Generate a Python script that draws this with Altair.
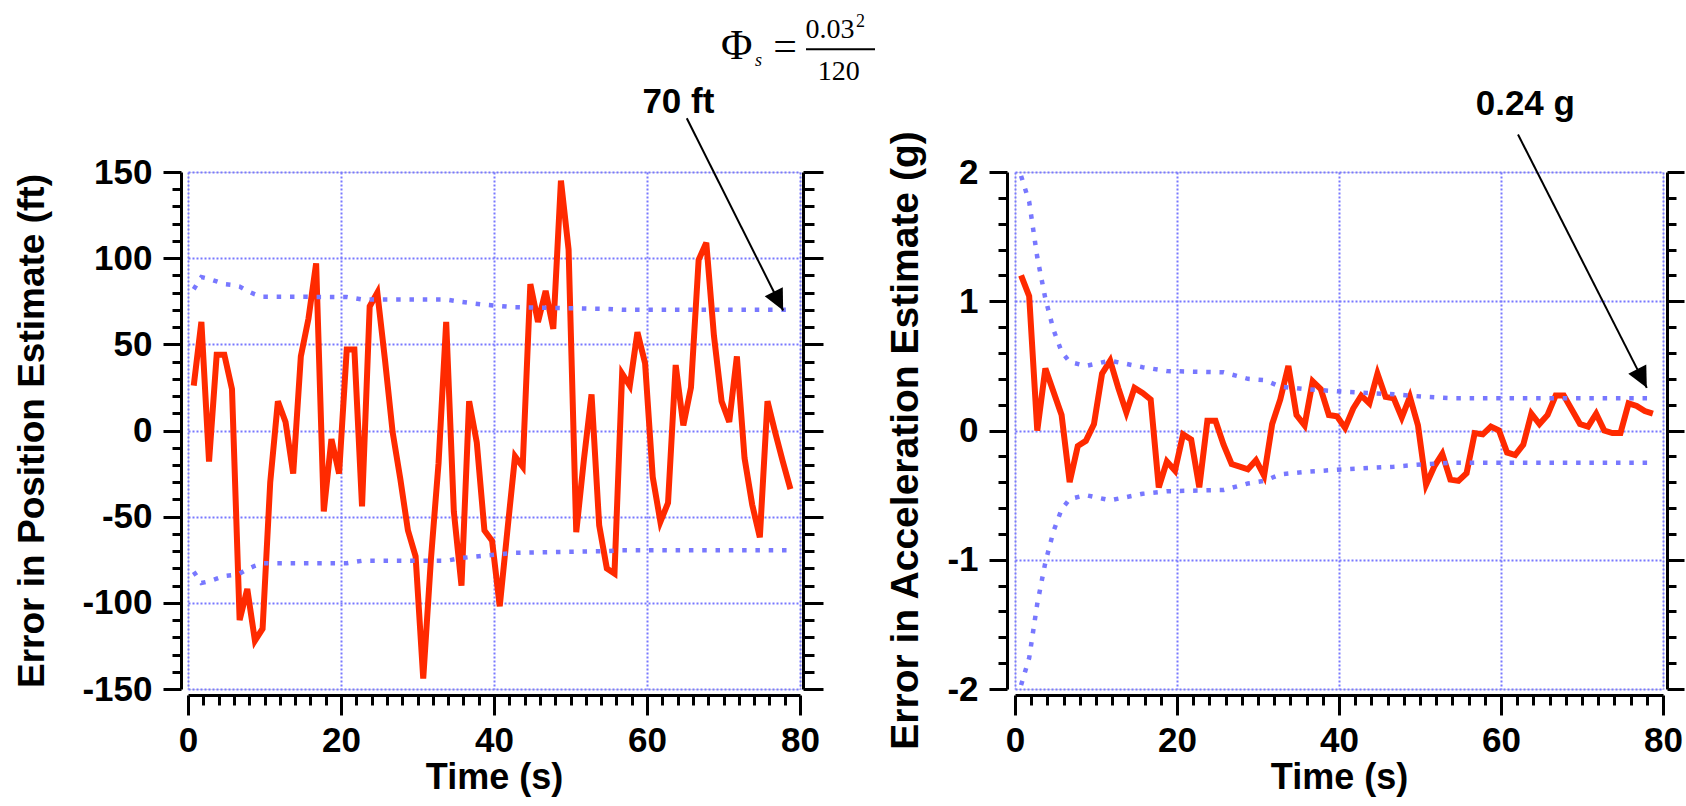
import math
import altair as alt
import pandas as pd

# ---------------- data ----------------
times = [k - 0.25 for k in range(1, 80)]

pos_err = [26, 63, -18, 44, 44, 24, -110, -92, -122, -115,
           -30, 17, 5, -25, 43, 65, 97, -47, -5, -25,
           47, 47, -44, 72, 80, 41, -1, -28, -58, -73,
           -144, -75, -19, 63, -47, -90, 17, -7, -58, -64,
           -102, -58, -15, -21, 85, 63, 81, 59, 145, 105,
           -59, -17, 21, -55, -80, -83, 33, 26, 57, 39,
           -27, -53, -42, 38, 3, 25, 99, 109, 55, 17,
           5, 43, -16, -43, -62, 17, -1, -18, -34]

acc_err = [1.20, 1.04, 0.00, 0.48, 0.30, 0.12, -0.40, -0.12, -0.08, 0.05,
           0.44, 0.54, 0.33, 0.14, 0.33, 0.29, 0.24, -0.44, -0.24, -0.31,
           -0.03, -0.07, -0.44, 0.075, 0.075, -0.11, -0.26, -0.28, -0.30, -0.23,
           -0.35, 0.05, 0.24, 0.50, 0.12, 0.04, 0.38, 0.32, 0.12, 0.11,
           0.02, 0.17, 0.27, 0.21, 0.44, 0.26, 0.25, 0.10, 0.26, 0.04,
           -0.42, -0.28, -0.18, -0.38, -0.39, -0.33, -0.02, -0.03, 0.03, 0.00,
           -0.17, -0.19, -0.11, 0.13, 0.05, 0.12, 0.27, 0.27, 0.16, 0.05,
           0.03, 0.13, 0.00, -0.02, -0.02, 0.21, 0.19, 0.15, 0.13]

pos_sig_t = [0.75, 1.75, 2.75, 3.75, 4.75, 5.75, 6.75, 7.75, 8.75, 9.75,
             20.75, 22.75, 33.75, 35.75, 38.75, 42.75, 54.75, 56.75, 78.75]
pos_sig_hi = [82, 89, 88, 86.5, 85, 84.5, 83.5, 81, 79, 77.6,
              77.5, 76, 76, 74.6, 73, 71.5, 70.5, 70, 70]
pos_sig_lo = [-82, -88.5, -87.5, -86, -84.5, -84, -83, -80.5, -78.5, -77,
              -77, -75.6, -75.6, -74, -72.6, -71, -70, -69.5, -69.5]

acc_sig_t = [0.75, 1.75, 2.75, 3.75, 4.75, 5.75, 6.75, 8.75, 11.75, 15.75,
             18.75, 25.75, 28.75, 30.75, 32.75, 35.75, 40.75, 46.75, 50.75, 53.75, 78.75]
acc_sig_hi = [1.97, 1.77, 1.34, 1.02, 0.78, 0.61, 0.53, 0.50, 0.54, 0.49,
              0.46, 0.45, 0.40, 0.39, 0.34, 0.32, 0.30, 0.28, 0.26, 0.25, 0.25]
acc_sig_lo = [-1.97, -1.76, -1.34, -1.02, -0.78, -0.61, -0.53, -0.50, -0.54, -0.49,
              -0.47, -0.46, -0.41, -0.39, -0.34, -0.32, -0.30, -0.28, -0.26, -0.25, -0.25]

x_ticks = list(range(0, 81, 2))
pos_ticks = list(range(-150, 151, 10))
acc_ticks = [round(-2 + 0.2 * i, 1) for i in range(21)]

pos_note = {"label": ["70 ft"], "t": [64.1], "v": [184.2]}
pos_arrow = {"t": [65.2], "v": [181.2], "t2": [77.8], "v2": [69.6]}
acc_note = {"label": ["0.24 g"], "t": [63.0], "v": [2.44]}
acc_arrow = {"t": [62.1], "v": [2.29], "t2": [78.0], "v2": [0.33]}

# ---------------- styles ----------------
FONT = "Liberation Sans"
SERIF = "Liberation Serif"
RED = "#ff2a00"
BLUE = "#7878ff"
W1, W2, H = 612, 648, 517
LEFT0, TOP0 = 188, 172
HEAD = "M0,0L-0.48,1L0.48,1Z"


def cond(test, a, b):
    return {"condition": {"test": test, "value": a}, "value": b}


AX = dict(labelFont=FONT, labelFontSize=35, labelFontWeight="bold", labelColor="black",
          titleFont=FONT, titleFontWeight="bold", titleColor="black",
          domainColor="black", domainWidth=3, tickColor="black", tickWidth=3,
          gridColor=BLUE, gridDash=[2, 2], gridWidth=2,
          labelOverlap=False, labelFlush=False, labelBound=False)

x_major = "datum.value % 20 === 0"
xscale = alt.Scale(domain=[0, 80], nice=False, zero=False)


def x_axis():
    return alt.Axis(values=x_ticks, orient="bottom", offset=6, title="Time (s)",
                    tickSize=cond(x_major, 20, 10), grid=True,
                    gridOpacity=cond(x_major, 1, 0),
                    labelExpr=f"{x_major} ? '' + datum.value : ''",
                    labelPadding=8, titleFontSize=36, titleY=93,
                    titleBaseline="alphabetic", **AX)


def arrow_angle(a, width, ydom):
    dx = (a["t2"][0] - a["t"][0]) * width / 80.0
    dy = (a["v"][0] - a["v2"][0]) * H / (ydom[1] - ydom[0])
    return math.degrees(math.atan2(dx, -dy))


def panel(line_vals, sig_t, sig_hi, sig_lo, ydom, yticks, major, ytitle, tsize, ty,
          width, left_off, right_off, left_tick, right_tick, title_x, note, arrow, extra):
    yscale = alt.Scale(domain=ydom, nice=False, zero=False)
    label_expr = f"{major} ? '' + round(datum.value) : ''"
    y_left = alt.Axis(values=yticks, orient="left", offset=left_off, title=ytitle,
                      tickSize=cond(major, left_tick[0], left_tick[1]), grid=True,
                      gridOpacity=cond(major, 1, 0), labelExpr=label_expr,
                      labelPadding=11, titleX=title_x, titleY=ty, titleAngle=270,
                      titleFontSize=tsize, titleAlign="center",
                      titleBaseline="alphabetic", **AX)
    y_right = alt.Axis(values=yticks, orient="right", offset=right_off, title=None,
                       labels=False, grid=False,
                       tickSize=cond(major, right_tick[0], right_tick[1]), **AX)
    X = lambda f: alt.X(f, scale=xscale, axis=x_axis())

    df_line = pd.DataFrame({"t": times, "v": line_vals})
    df_hi = pd.DataFrame({"t": sig_t, "v": sig_hi})
    df_lo = pd.DataFrame({"t": sig_t, "v": sig_lo})

    red = alt.Chart(df_line).mark_line(color=RED, strokeWidth=6).encode(
        x=X("t:Q"), y=alt.Y("v:Q", scale=yscale, axis=y_left))
    hi = alt.Chart(df_hi).mark_line(color=BLUE, strokeWidth=4.5, strokeDash=[4.5, 8.8]).encode(
        x=X("t:Q"), y=alt.Y("v:Q", scale=yscale, axis=y_right))
    lo = alt.Chart(df_lo).mark_line(color=BLUE, strokeWidth=4.5, strokeDash=[4.5, 8.8]).encode(
        x=X("t:Q"), y=alt.Y("v:Q", scale=yscale, axis=None))
    df_arrow = pd.DataFrame(arrow)
    rule = alt.Chart(df_arrow).mark_rule(color="black", strokeWidth=2).encode(
        x=X("t:Q"), y=alt.Y("v:Q", scale=yscale, axis=None),
        x2="t2:Q", y2="v2:Q")
    head = alt.Chart(df_arrow).mark_point(
        shape=HEAD, filled=True, color="black", opacity=1, size=1764,
        angle=arrow_angle(arrow, width, ydom)).encode(
        x=X("t2:Q"), y=alt.Y("v2:Q", scale=yscale, axis=None))
    txt = alt.Chart(pd.DataFrame(note)).mark_text(
        font=FONT, fontSize=35, fontWeight="bold", color="black",
        align="center", baseline="alphabetic").encode(
        x=X("t:Q"), y=alt.Y("v:Q", scale=yscale, axis=None), text="label:N")
    return alt.layer(red, hi, lo, rule, head, txt, *extra).resolve_axis(
        y="independent").properties(width=width, height=H)


# formula  Phi_s = 0.03^2 / 120 (placed above the left panel)
def ftext(s, x, y, size, align="center", style="normal"):
    return alt.Chart().mark_text(text=s, font=SERIF, fontSize=size, fontStyle=style,
                                 color="black", align=align, baseline="alphabetic").encode(
        x=alt.value(x), y=alt.value(y))


formula = [
    ftext("\u03a6", 548.7, -112.7, 43),
    ftext("s", 567, -106, 18, align="left", style="italic"),
    ftext("=", 597, -112.5, 42),
    ftext("0.03", 642, -133.7, 28),
    ftext("2", 668, -145, 18, align="left"),
    alt.Chart().mark_rule(color="black", strokeWidth=2).encode(
        x=alt.value(618), x2=alt.value(687), y=alt.value(-122.7)),
    ftext("120", 650.7, -92, 28),
]
anchor = alt.Chart().mark_rule(opacity=0, strokeWidth=1).encode(
    x=alt.value(-LEFT0 + 0.5), x2=alt.value(1685 - LEFT0),
    y=alt.value(-TOP0 + 0.5), y2=alt.value(805 - TOP0))

left = panel(pos_err, pos_sig_t, pos_sig_hi, pos_sig_lo, [-150, 150], pos_ticks,
             "datum.value % 50 === 0", "Error in Position Estimate (ft)", 37, H / 2,
             W1, 7, 3, (18, 9), (20, 11), -138, pos_note, pos_arrow, formula + [anchor])

right = panel(acc_err, acc_sig_t, acc_sig_hi, acc_sig_lo, [-2, 2], acc_ticks,
              "abs(datum.value - round(datum.value)) < 1e-6",
              "Error in Acceleration Estimate (g)", 39, 268,
              W2, 8, 4, (18, 9), (17, 9), -90, acc_note, acc_arrow, [])

chart = alt.hconcat(left, right, spacing=215, bounds="flush").properties(
    padding=0, background="white").configure_view(stroke=None).configure(font=FONT)

chart.save("out.html", embed_options={"renderer": "svg", "actions": False})
